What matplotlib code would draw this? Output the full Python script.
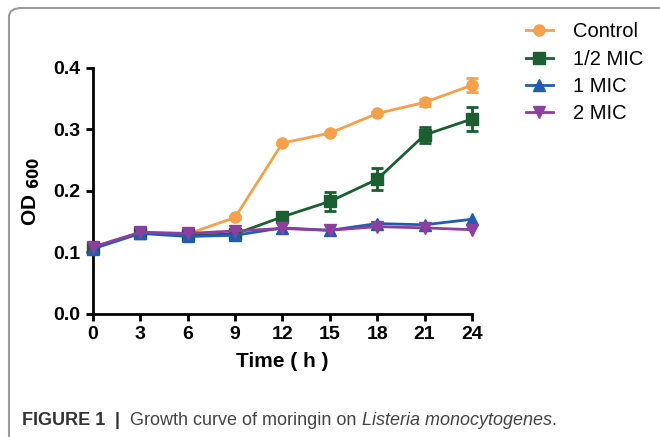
import matplotlib
matplotlib.use("Agg")
import matplotlib.pyplot as plt
from matplotlib.patches import FancyBboxPatch
from matplotlib.lines import Line2D

# data
hours = [0, 3, 6, 9, 12, 15, 18, 21, 24]
control = [0.108, 0.132, 0.130, 0.157, 0.278, 0.294, 0.326, 0.344, 0.372]
control_err = [0.002, 0.002, 0.002, 0.002, 0.002, 0.002, 0.002, 0.006, 0.011]
half_mic = [0.108, 0.132, 0.128, 0.130, 0.158, 0.183, 0.219, 0.291, 0.317]
half_mic_err = [0.002, 0.002, 0.002, 0.002, 0.006, 0.015, 0.018, 0.013, 0.019]
one_mic = [0.106, 0.131, 0.126, 0.128, 0.140, 0.136, 0.147, 0.145, 0.154]
two_mic = [0.109, 0.133, 0.131, 0.135, 0.139, 0.136, 0.142, 0.140, 0.137]
names = ["Control", "1/2 MIC", "1 MIC", "2 MIC"]
colors = ["#F7A04A", "#1B5E30", "#1F5DB3", "#8C3F9E"]
markers = ["o", "s", "^", "v"]

tick_font = ["Liberation Sans Narrow", "Liberation Sans", "DejaVu Sans"]
plain_font = ["Liberation Sans", "DejaVu Sans"]

fig = plt.figure(figsize=(6.6, 4.37), dpi=100)
ax = fig.add_axes([0.141, 0.2815, 0.574, 0.563])

series = [(control, control_err), (half_mic, half_mic_err), (one_mic, None), (two_mic, None)]
for (vals, err), name, c, m in zip(series, names, colors, markers):
    ax.errorbar(hours, vals, yerr=err, color=c, marker=m, markersize=8,
                linewidth=2, capsize=4, capthick=2, elinewidth=2, label=name,
                clip_on=False, zorder=3)

ax.set_xlim(0, 24)
ax.set_ylim(0, 0.4)
ax.set_xticks(hours)
ax.set_yticks([0.0, 0.1, 0.2, 0.3, 0.4])
ax.set_yticklabels(["0.0", "0.1", "0.2", "0.3", "0.4"])
for s in ["top", "right"]:
    ax.spines[s].set_visible(False)
for s in ["left", "bottom"]:
    ax.spines[s].set_linewidth(2)
ax.tick_params(direction="out", length=5, width=2, pad=4)
for lab in ax.get_xticklabels() + ax.get_yticklabels():
    lab.set_family(tick_font)
    lab.set_fontweight("bold")
    lab.set_fontsize(14)

ax.set_xlabel("Time ( h )", family=tick_font, fontweight="bold", fontsize=15, labelpad=6)
ax.set_ylabel(r"OD $_{\mathbf{600}}$", family=plain_font, fontweight="bold", fontsize=15, labelpad=8)

handles = [Line2D([0], [0], color=c, marker=m, markersize=8, linewidth=2)
           for c, m in zip(colors, markers)]
fig.legend(handles, names, loc="upper left", bbox_to_anchor=(0.77, 0.99),
           frameon=False, prop={"family": plain_font, "size": 14.5},
           handlelength=1.3, handletextpad=1.0, labelspacing=0.41)

# caption
fig.canvas.draw()
r = fig.canvas.get_renderer()
x = 22 / 660
y = 1 - 425 / 437
parts = [("FIGURE 1", "bold", "normal", "#333333"), ("  |  ", "bold", "normal", "#333333"),
         ("Growth curve of moringin on ", "normal", "normal", "#444444"),
         ("Listeria monocytogenes", "normal", "italic", "#444444"), (".", "normal", "normal", "#444444")]
for txt, w, st, col in parts:
    t = fig.text(x, y, txt, family=tick_font, fontweight=w, style=st,
                 fontsize=13, color=col, va="baseline")
    bb = t.get_window_extent(r)
    x += bb.width / fig.bbox.width

# outer frame
frame = FancyBboxPatch((9 / 660, -0.1), 1.2, 1.1 - 8 / 437,
                       boxstyle="round,pad=0,rounding_size=0.02",
                       transform=fig.transFigure, fill=False,
                       edgecolor="#9a9a9a", linewidth=1.5, clip_on=False)
fig.patches.append(frame)

fig.savefig("out.png", dpi=100)
